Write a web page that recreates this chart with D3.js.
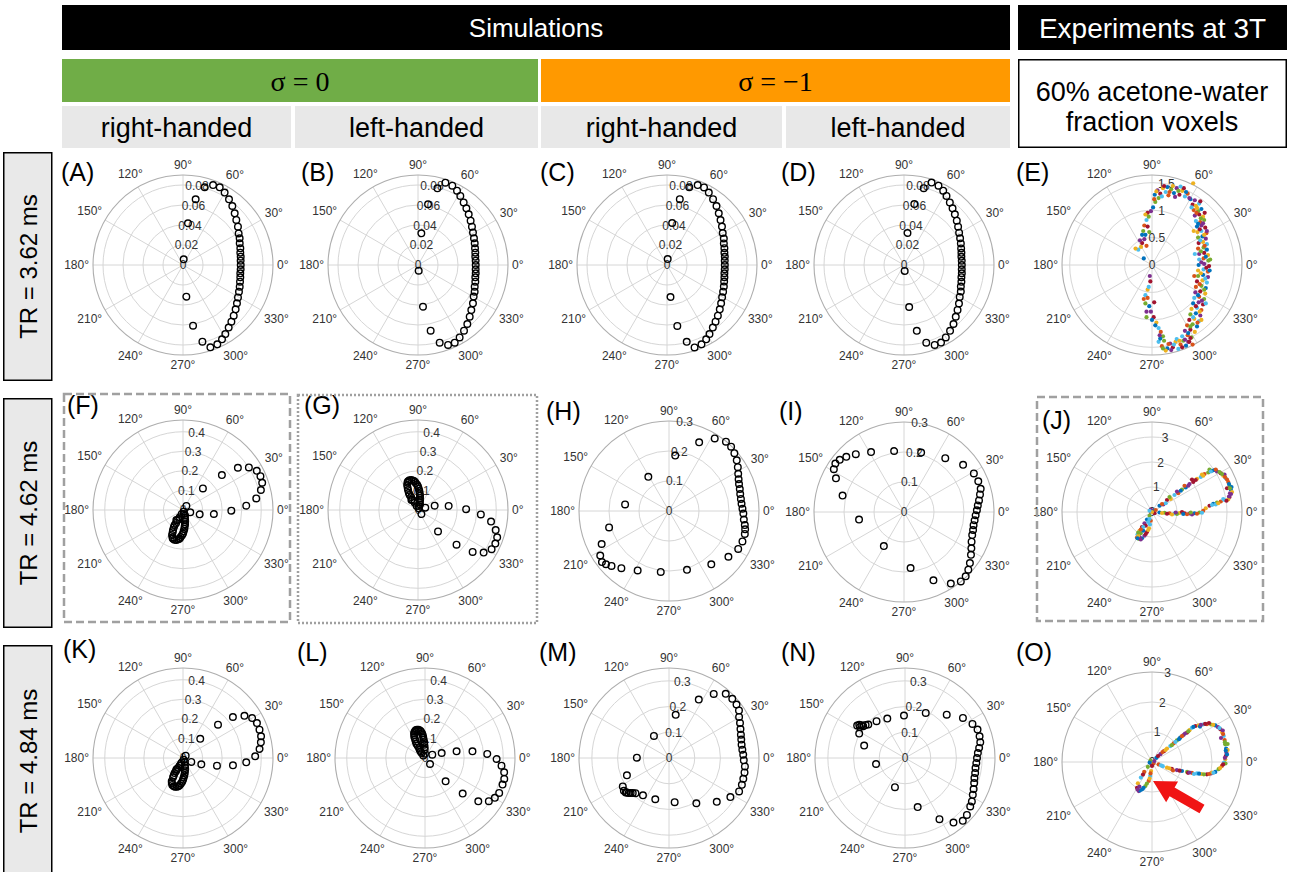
<!DOCTYPE html>
<html>
<head>
<meta charset="utf-8">
<script src="https://cdn.jsdelivr.net/npm/d3@7"></script>
<style>
  html, body { margin: 0; padding: 0; background: #fff; }
  svg { display: block; }
</style>
</head>
<body>
<svg id="fig" width="1290" height="872"></svg>
<script>
// ---------- text content ----------
const groupTitles = ["Simulations", "Experiments at 3T"];
const sigmaLabels = ["\u03C3 = 0", "\u03C3 = \u22121"];
const handedness = ["right-handed", "left-handed", "right-handed", "left-handed"];
const voxelLabel = ["60% acetone-water", "fraction voxels"];
const trLabels = ["TR = 3.62 ms", "TR = 4.62 ms", "TR = 4.84 ms"];

// ---------- polar axis ticks ----------
const thetaTicks = [0, 30, 60, 90, 120, 150, 180, 210, 240, 270, 300, 330];
const rTicksRow1 = [0, 0.02, 0.04, 0.06, 0.08];
const rTicksLoop = [0, 0.1, 0.2, 0.3, 0.4];
const rTicksWide = [0, 0.1, 0.2, 0.3];
const rTicksE = [0, 0.5, 1, 1.5];
const rTicksJO = [0, 1, 2, 3];

// ---------- simulated signal: [phase (deg), magnitude] ----------
const simA = [[69.4,0.0854],[74.4,0.0806],[64.7,0.0859],[60.1,0.0835],[55.0,0.0802],[50.1,0.0769],[45.0,0.0731],[40.2,0.0698],[34.9,0.0670],[29.6,0.0640],[25.2,0.0626],[20.9,0.0607],[16.2,0.0597],[12.1,0.0586],[8.2,0.0583],[4.3,0.0578],[0,0.0577],[-4.3,0.0578],[-8.3,0.0579],[-12.1,0.0586],[-16.3,0.0594],[-20.9,0.0607],[-25.5,0.0620],[-30.5,0.0638],[-35.4,0.0662],[-40.1,0.0688],[-45.0,0.0717],[-49.5,0.0745],[-53.9,0.0775],[-58.5,0.0810],[-62.3,0.0839],[-66.6,0.0864],[-71.6,0.0868],[-75.8,0.0791],[-80.6,0.0615],[-84.0,0.0318],[83.0,0.0057],[83.2,0.0420],[79.1,0.0669]];
const simB = [[-69.4,0.0854],[-74.4,0.0806],[-64.7,0.0859],[-60.1,0.0835],[-55.0,0.0802],[-50.1,0.0769],[-45.0,0.0731],[-40.2,0.0698],[-34.9,0.0670],[-29.6,0.0640],[-25.2,0.0626],[-20.9,0.0607],[-16.2,0.0597],[-12.1,0.0586],[-8.2,0.0583],[-4.3,0.0578],[0,0.0577],[4.3,0.0578],[8.3,0.0579],[12.1,0.0586],[16.3,0.0594],[20.9,0.0607],[25.5,0.0620],[30.5,0.0638],[35.4,0.0662],[40.1,0.0688],[45.0,0.0717],[49.5,0.0745],[53.9,0.0775],[58.5,0.0810],[62.3,0.0839],[66.6,0.0864],[71.6,0.0868],[75.8,0.0791],[80.6,0.0615],[84.0,0.0318],[-83.0,0.0057],[-83.2,0.0420],[-79.1,0.0669]];
const simC = [[69.0,0.0856],[74.0,0.0808],[64.5,0.0860],[60.0,0.0836],[55.0,0.0803],[50.0,0.0770],[45.0,0.0732],[40.0,0.0699],[35.0,0.0671],[29.8,0.0642],[25.0,0.0627],[20.8,0.0608],[16.3,0.0598],[12.0,0.0587],[8.1,0.0584],[4.2,0.0579],[0,0.0578],[-4.2,0.0579],[-8.2,0.0580],[-12.0,0.0587],[-16.2,0.0595],[-20.8,0.0608],[-25.4,0.0621],[-30.4,0.0639],[-35.3,0.0663],[-40.0,0.0689],[-44.9,0.0718],[-49.4,0.0746],[-53.8,0.0776],[-58.4,0.0811],[-62.2,0.0840],[-66.5,0.0865],[-71.5,0.0869],[-75.6,0.0793],[-80.4,0.0618],[-83.8,0.0322],[83.5,0.0060],[83.0,0.0423],[79.0,0.0671]];
const simD = [[-69.0,0.0856],[-74.0,0.0808],[-64.5,0.0860],[-60.0,0.0836],[-55.0,0.0803],[-50.0,0.0770],[-45.0,0.0732],[-40.0,0.0699],[-35.0,0.0671],[-29.8,0.0642],[-25.0,0.0627],[-20.8,0.0608],[-16.3,0.0598],[-12.0,0.0587],[-8.1,0.0584],[-4.2,0.0579],[0,0.0578],[4.2,0.0579],[8.2,0.0580],[12.0,0.0587],[16.2,0.0595],[20.8,0.0608],[25.4,0.0621],[30.4,0.0639],[35.3,0.0663],[40.0,0.0689],[44.9,0.0718],[49.4,0.0746],[53.8,0.0776],[58.4,0.0811],[62.2,0.0840],[66.5,0.0865],[71.5,0.0869],[75.6,0.0793],[80.4,0.0618],[83.8,0.0322],[-83.5,0.0060],[-83.0,0.0423],[-79.0,0.0671]];

const simF = [[47.3,0.150],[41.9,0.267],[37.6,0.354],[32.9,0.401],[28.0,0.427],[23.6,0.432],[19.0,0.428],[14.4,0.411],[9.0,0.379],[3.9,0.324],[-0.8,0.247],[-7.4,0.159],[-14.6,0.088],[-17.6,0.039],[50,0.027],
  [-68,0.009],[-108,0.021],[-114,0.041],[-119,0.062],[-119,0.088],[-116.6,0.114],[-113.7,0.139],[-109.2,0.155],[-102.5,0.157],[-96.6,0.147],[-92.3,0.129],[-88.2,0.109],[-84.3,0.085],[-80.5,0.062],[-77.7,0.040],[-76,0.021],[-123.7,0.061],
  [-70,0.030],[-112,0.050],[-118,0.075],[-118,0.100],[-115,0.125],[-111,0.150],[-106,0.158],[-99,0.152],[-95,0.138],[-90,0.120],[-86,0.097],[-82,0.074],[-78,0.050]];
const simG = [[-47,0.150],[-42,0.265],[-37.5,0.352],[-33,0.400],[-28,0.426],[-23.5,0.431],[-19,0.428],[-14.5,0.410],[-9,0.378],[-4,0.322],[1,0.246],[7.5,0.158],[14.5,0.088],[17.5,0.039],[-50,0.027],
  [68,0.009],[108,0.021],[114,0.041],[119,0.062],[119,0.088],[116.5,0.114],[113.5,0.139],[109,0.155],[102.5,0.157],[96.5,0.147],[92,0.129],[88,0.109],[84,0.085],[80.5,0.062],[77.5,0.040],[76,0.021],[123.5,0.061],
  [70,0.030],[112,0.050],[118,0.075],[118,0.100],[115,0.125],[111,0.150],[106,0.158],[99,0.152],[95,0.138],[90,0.120],[86,0.097],[82,0.074],[78,0.050]];
const simH = [[66.3,0.250],[57.8,0.286],[50.6,0.299],[46.0,0.298],[41.5,0.291],[36.8,0.282],[32.5,0.272],[28.3,0.262],[24.5,0.255],[21.0,0.250],[17.2,0.247],[13.4,0.244],[9.5,0.243],[5.7,0.243],[1.8,0.245],[-2.0,0.248],[-6.5,0.251],[-10.5,0.257],[-13.5,0.261],[-16.8,0.264],[-22.5,0.265],[-28.7,0.263],[-37.6,0.250],[-51.6,0.227],[-73.0,0.205],[-97.7,0.205],[-117.8,0.224],[-129.8,0.248],[-136.3,0.265],[-139.8,0.275],[-142.7,0.281],[-147.1,0.273],[-153.9,0.250],[-164.7,0.207],[171.5,0.148],[121.2,0.133],[83.6,0.186]];
const simI = [[73.9,0.206],[52.5,0.226],[38.6,0.252],[28.9,0.266],[22.5,0.268],[16.8,0.267],[13.0,0.260],[8.8,0.253],[5.1,0.247],[1.3,0.243],[-2.6,0.239],[-6.7,0.237],[-10.7,0.236],[-14.7,0.238],[-18.7,0.240],[-23.7,0.246],[-28.3,0.255],[-32.6,0.265],[-37.8,0.278],[-41.9,0.288],[-46.2,0.297],[-50.7,0.299],[-56.8,0.285],[-66.7,0.248],[-83.3,0.188],[-120.6,0.132],[-170.4,0.152],[165.0,0.212],[153.7,0.253],[148.6,0.274],[144.8,0.280],[140.9,0.276],[136.3,0.266],[129.8,0.251],[118.8,0.228],[99.2,0.206]];
const simK = [[48.1,0.132],[43.6,0.247],[39.4,0.330],[34.5,0.381],[30.0,0.408],[25.3,0.418],[20.3,0.417],[15.5,0.414],[11.4,0.406],[6.7,0.394],[1.3,0.369],[-3.9,0.324],[-8.3,0.258],[-12.7,0.178],[-19,0.099],[-25.6,0.047],[41,0.018],
  [-68,0.009],[-107,0.023],[-113.5,0.043],[-118.6,0.064],[-119,0.088],[-117.3,0.111],[-115.9,0.132],[-111.6,0.148],[-105.4,0.153],[-99.4,0.146],[-94.5,0.131],[-90,0.111],[-85.6,0.089],[-80.8,0.064],[-75.4,0.040],[-67.4,0.022],[-119.7,0.069],
  [-110,0.032],[-116,0.055],[-118,0.077],[-118,0.100],[-114,0.140],[-108,0.152],[-102,0.150],[-97,0.140],[-92,0.122],[-88,0.100],[-83,0.076],[-78,0.052]];
const simL = [[24.4,0.041],[16.7,0.089],[11.9,0.165],[8.0,0.245],[3.7,0.319],[-0.8,0.366],[-5.7,0.393],[-10.2,0.411],[-14.8,0.419],[-18.9,0.419],[-25.2,0.419],[-29.7,0.411],[-34.1,0.394],[-39.1,0.351],[-43.4,0.265],[-48.5,0.159],[-50.2,0.040],
  [125.5,0.015],[123.7,0.031],[122.6,0.050],[120.7,0.073],[119.2,0.097],[117,0.120],[113.7,0.139],[108.6,0.149],[103.2,0.148],[98.6,0.136],[95.8,0.118],[94.2,0.094],[92.9,0.068],[92.3,0.043],[90,0.022],[121,0.059],
  [124,0.040],[121,0.085],[118,0.108],[115,0.130],[111,0.145],[106,0.150],[100,0.143],[97,0.127],[95,0.106],[93,0.080],[92,0.055]];
const simM = [[63.0,0.255],[55.1,0.304],[48.5,0.333],[43.1,0.337],[38.4,0.335],[34.2,0.329],[30.4,0.316],[26.3,0.308],[22.1,0.300],[18.0,0.294],[14.3,0.290],[10.4,0.287],[6.5,0.287],[2.6,0.289],[-1.8,0.291],[-6.3,0.297],[-10.8,0.299],[-15.6,0.300],[-20.2,0.302],[-25.5,0.302],[-32.5,0.283],[-42.5,0.252],[-58.9,0.206],[-82.7,0.173],[-108.4,0.169],[-124.9,0.177],[-133.6,0.189],[-136,0.196],[-137.6,0.202],[-139,0.208],[-140.7,0.212],[-141.5,0.215],[-144,0.217],[-148.4,0.211],[-157.6,0.177],[179.4,0.125],[124.3,0.104],[81.2,0.170]];
const simN = [[34.7,0.274],[46.1,0.234],[65.3,0.193],[91.4,0.165],[114.2,0.168],[127.7,0.181],[137.7,0.193],[140,0.200],[142.8,0.204],[143,0.212],[144,0.220],[145.4,0.213],[145.8,0.225],[151.9,0.202],[163.1,0.166],[-168.3,0.115],[-109,0.120],[-75.5,0.197],[-60.6,0.273],[-53.1,0.314],[-47.4,0.332],[-42.6,0.327],[-36.6,0.316],[-33,0.310],[-28.5,0.300],[-24.4,0.293],[-19.9,0.286],[-16.1,0.281],[-12.1,0.279],[-8.1,0.277],[-4.0,0.278],[0,0.280],[3.9,0.284],[7.7,0.291],[11.8,0.299],[16.2,0.302],[21.4,0.303],[26.8,0.294]];

// ---------- measured voxel signal: [real, imaginary] ----------
const sigE = [
  [0.70,1.20],[0.78,1.18],[0.74,1.10],[0.80,1.08],[0.86,1.12],[0.76,1.00],[0.84,0.98],[0.90,1.02],[0.78,0.90],[0.86,0.92],[0.93,0.88],[0.80,0.80],[0.88,0.78],[0.95,0.82],[0.82,0.70],[0.90,0.72],[0.97,0.68],[0.83,0.60],[0.90,0.62],[0.99,0.58],[0.84,0.50],[0.92,0.52],[0.98,0.48],[0.85,0.40],[0.93,0.42],[1.00,0.38],[0.84,0.30],[0.94,0.32],[1.00,0.28],[0.86,0.20],[0.95,0.22],[1.02,0.18],[0.86,0.10],[0.94,0.12],[1.03,0.08],[0.85,0.00],[0.95,0.02],[1.04,-0.02],[0.84,-0.10],[0.94,-0.08],[1.02,-0.12],[0.84,-0.20],[0.93,-0.18],[1.02,-0.22],[0.82,-0.30],[0.92,-0.28],[1.00,-0.32],[0.80,-0.40],[0.90,-0.38],[0.98,-0.42],[0.79,-0.50],[0.88,-0.48],[0.97,-0.52],[0.77,-0.60],[0.86,-0.58],[0.95,-0.62],[0.75,-0.70],[0.85,-0.68],[0.93,-0.72],[0.72,-0.80],[0.82,-0.78],[0.90,-0.82],[0.70,-0.90],[0.80,-0.88],[0.88,-0.92],[0.68,-1.00],[0.77,-0.98],[0.86,-1.02],[0.64,-1.10],[0.74,-1.08],[0.82,-1.12],[0.60,-1.20],[0.70,-1.18],[0.78,-1.22],[0.55,-1.30],[0.65,-1.28],[0.72,-1.32],
  [0.05,1.28],[0.10,1.36],[0.15,1.30],[0.20,1.40],[0.25,1.33],[0.30,1.27],[0.35,1.38],[0.40,1.31],[0.45,1.40],[0.50,1.28],[0.55,1.35],[0.60,1.25],[0.65,1.30],[0.12,1.22],[0.28,1.42],[0.42,1.24],[0.58,1.40],[0.75,1.49],
  [0.12,-1.40],[0.18,-1.48],[0.22,-1.38],[0.28,-1.52],[0.33,-1.43],[0.38,-1.50],[0.43,-1.40],[0.48,-1.53],[0.52,-1.45],[0.57,-1.38],[0.62,-1.47],[0.66,-1.40],[0.70,-1.33],[0.25,-1.56],[0.45,-1.35],[0.74,-1.45],
  [0.06,1.15],[0.02,1.05],[-0.02,0.98],[-0.08,0.95],[-0.12,0.92],[-0.10,0.82],[-0.14,0.72],[-0.16,0.62],[-0.12,0.55],[-0.14,0.47],[-0.18,0.40],[-0.20,0.33],[-0.25,0.28],[-0.10,0.35],[-0.05,0.60],[-0.15,0.12],
  [-0.04,-0.20],[-0.03,-0.30],[-0.08,-0.45],[-0.12,-0.55],[-0.08,-0.60],[-0.12,-0.70],[-0.05,-0.75],[-0.02,-0.85],[0.03,-0.95],[0.08,-1.05],[0.12,-1.15],[0.16,-1.22],[0.20,-1.30],[0.00,-1.00],[-0.10,-0.85],
  [0.88,1.16],[0.82,1.04],[0.72,1.05],[0.81,0.95],[0.89,0.85],[0.84,0.75],[0.93,0.76],[0.87,0.65],[0.95,0.55],[0.88,0.45],[0.96,0.35],[0.89,0.25],[0.98,0.15],[0.90,0.05],[0.99,-0.05],[0.89,-0.15],[0.97,-0.25],[0.87,-0.35],[0.95,-0.45],[0.84,-0.55],[0.91,-0.65],[0.80,-0.75],[0.87,-0.85],[0.75,-0.95],[0.83,-1.05],[0.70,-1.12],[0.66,-1.24],[0.60,-1.36],[0.68,-1.40],[0.50,-1.38],[0.40,-1.45],[0.30,-1.44],[0.20,-1.52],[0.15,-1.34],[0.35,-1.55],[0.55,-1.50],[0.08,1.34],[0.18,1.25],[0.32,1.33],[0.48,1.35],[0.62,1.33],[0.68,1.22],[0.22,1.44],[0.38,1.44],[0.52,1.43],[0.04,1.20],[-0.06,0.88],[-0.18,0.55],[-0.22,0.45],[-0.08,0.70],[-0.30,0.30],[-0.06,-0.40],[-0.15,-0.62],[-0.10,-0.95],[0.06,-1.10],[0.14,-1.28],[0.04,-0.68],[0.76,0.62],[0.78,0.20],[0.77,-0.20],[1.06,0.10],[1.05,-0.10],[1.00,0.62],[0.96,0.95],[0.90,-1.00],[0.98,-0.70]];
const sigJ = [
  [0.30,0.25],[0.45,0.30],[0.60,0.48],[0.75,0.52],[0.90,0.68],[1.05,0.75],[1.20,0.90],[1.35,0.98],[1.50,1.12],[1.65,1.20],[1.80,1.33],[1.95,1.40],[2.10,1.52],[2.25,1.58],[2.40,1.65],[1.00,0.82],[1.60,1.30],[2.00,1.50],[0.55,0.35],[1.30,1.05],[2.30,1.70],
  [2.50,1.68],[2.60,1.62],[2.75,1.55],[2.85,1.45],[2.95,1.35],[3.05,1.20],[3.10,1.05],[3.15,0.90],[3.12,0.75],[3.10,0.60],[3.05,0.50],[2.90,0.48],[2.75,0.42],[2.60,0.38],[2.45,0.33],[2.90,1.50],[3.00,0.95],[3.20,0.80],[2.85,0.52],[3.00,1.30],[2.70,1.60],[3.18,1.00],[3.08,0.62],[2.30,0.25],[2.15,0.15],[2.55,0.30],
  [2.05,0.05],[1.90,-0.02],[1.70,-0.05],[1.50,-0.06],[1.30,-0.05],[1.10,-0.04],[0.90,-0.06],[0.70,-0.05],[0.50,-0.03],[0.30,-0.02],[1.60,-0.10],[1.20,0.00],[0.80,-0.10],[2.00,-0.03],[1.40,-0.09],[1.00,-0.08],
  [0.05,0.05],[-0.05,0.10],[0.10,-0.05],[0.00,0.00],[-0.10,0.05],[0.15,0.08],
  [-0.10,-0.15],[-0.20,-0.30],[-0.30,-0.45],[-0.40,-0.60],[-0.50,-0.75],[-0.58,-0.90],[-0.60,-1.02],[-0.52,-1.08],[-0.40,-1.05],[-0.30,-0.95],[-0.20,-0.80],[-0.12,-0.65],[-0.08,-0.50],[-0.05,-0.35],[-0.45,-0.85],[-0.35,-0.75],[-0.50,-1.00],[-0.25,-0.55],[-0.55,-0.95],[-0.15,-0.40],
  [0.40,0.32],[0.70,0.60],[1.15,0.85],[1.45,1.05],[1.75,1.28],[2.05,1.45],[2.35,1.62],[2.55,1.70],[2.80,1.52],[3.08,1.12],[3.16,0.72],[2.98,0.45],[2.65,0.35],[2.40,0.28],[1.80,-0.07],[1.55,-0.02],[1.25,-0.08],[0.95,-0.02],[0.60,-0.07],[0.40,-0.04],[-0.35,-0.60],[-0.45,-0.70],[-0.55,-0.82],[-0.58,-1.05],[-0.45,-1.10],[-0.25,-0.88],[-0.15,-0.72],[-0.10,-0.28],[2.92,1.40],[3.12,0.95]];
const sigO = [
  [0.15,0.14],[0.28,0.26],[0.40,0.36],[0.50,0.45],[0.61,0.53],[0.72,0.62],[0.83,0.72],[0.94,0.81],[1.05,0.90],[1.17,0.98],[1.25,1.06],[1.33,1.14],[0.35,0.33],[0.66,0.56],[0.90,0.76],[1.10,0.95],
  [1.45,1.20],[1.56,1.22],[1.70,1.25],[1.83,1.26],[1.97,1.25],[2.11,1.22],[2.20,1.16],[2.28,1.09],[2.34,0.98],[2.39,0.87],[2.42,0.73],[2.44,0.59],[2.47,0.45],[2.48,0.31],[2.46,0.20],[2.44,0.09],[2.40,-0.02],[2.33,-0.13],[2.22,-0.24],[2.11,-0.33],[1.97,-0.38],[1.83,-0.41],[1.65,-0.40],[1.50,-0.38],[1.33,-0.36],[1.17,-0.33],[1.00,-0.30],[0.83,-0.27],[0.66,-0.23],[0.50,-0.19],[0.36,-0.14],[0.22,-0.08],
  [2.52,0.60],[2.50,0.25],[2.36,1.05],[1.90,1.30],[2.00,-0.35],[1.40,-0.40],[0.70,-0.28],[2.45,-0.05],[1.60,1.18],[2.30,0.80],[1.20,-0.36],[2.52,0.40],
  [0.00,0.00],[0.05,-0.05],[-0.05,0.05],[-0.08,-0.02],[0.08,0.03],
  [0.00,-0.13],[-0.03,-0.30],[-0.06,-0.47],[-0.11,-0.63],[-0.22,-0.80],[-0.33,-0.91],[-0.44,-0.97],[-0.50,-0.86],[-0.47,-0.71],[-0.37,-0.52],[-0.26,-0.33],[-0.14,-0.16],[-0.40,-0.95],[-0.48,-0.92],
  [0.20,0.20],[0.45,0.40],[0.78,0.67],[1.00,0.86],[1.21,1.02],[1.38,1.17],[1.63,1.24],[1.77,1.27],[2.04,1.24],[2.25,1.13],[2.37,0.93],[2.43,0.66],[2.46,0.38],[2.43,0.14],[2.37,-0.08],[2.27,-0.20],[2.05,-0.36],[1.90,-0.40],[1.73,-0.41],[1.57,-0.39],[1.25,-0.35],[0.92,-0.29],[0.58,-0.21],[0.30,-0.11],[-0.05,-0.38],[-0.17,-0.72],[-0.28,-0.86],[-0.42,-0.82],[-0.30,-0.42],[-0.08,-0.55]];

// ---------- layout ----------
const W = 1290, H = 872;
const R = 90;                      // polar axes radius in px
const FONT = '"Liberation Sans", Arial, Helvetica, sans-serif';
const seriesColors = ["#0072BD","#D95319","#EDB120","#7E2F8E","#77AC30","#4DBEEE","#A2142F"];

const panels = [
  {id:"A", cx:183, cy:265, rmax:0.09, ticks:rTicksRow1, sim:simA, lx:61,  ly:181},
  {id:"B", cx:418, cy:265, rmax:0.09, ticks:rTicksRow1, sim:simB, lx:301, ly:181},
  {id:"C", cx:667, cy:265, rmax:0.09, ticks:rTicksRow1, sim:simC, lx:540, ly:181},
  {id:"D", cx:904, cy:265, rmax:0.09, ticks:rTicksRow1, sim:simD, lx:781, ly:181},
  {id:"E", cx:1152, cy:265, rmax:1.64, ticks:rTicksE, sig:sigE, lx:1016, ly:181},
  {id:"F", cx:183, cy:510, rmax:0.46, ticks:rTicksLoop, sim:simF, lx:67,  ly:414},
  {id:"G", cx:418, cy:510, rmax:0.46, ticks:rTicksLoop, sim:simG, lx:304, ly:414},
  {id:"H", cx:669, cy:511, rmax:0.30, ticks:rTicksWide, sim:simH, lx:546, ly:420},
  {id:"I", cx:904, cy:512, rmax:0.30, ticks:rTicksWide, sim:simI, lx:779, ly:420},
  {id:"J", cx:1152, cy:512, rmax:3.6, ticks:rTicksJO, sig:sigJ, lx:1042, ly:429},
  {id:"K", cx:183, cy:758, rmax:0.46, ticks:rTicksLoop, sim:simK, lx:63,  ly:658},
  {id:"L", cx:425, cy:758, rmax:0.46, ticks:rTicksLoop, sim:simL, lx:297, ly:661},
  {id:"M", cx:669, cy:758, rmax:0.35, ticks:rTicksWide, sim:simM, lx:539, ly:661},
  {id:"N", cx:905, cy:758, rmax:0.35, ticks:rTicksWide, sim:simN, lx:781, ly:661},
  {id:"O", cx:1152, cy:762, rmax:3.0, ticks:rTicksJO, sig:sigO, lx:1016, ly:661}
];

const svg = d3.select("#fig");
svg.append("rect").attr("width", W).attr("height", H).attr("fill", "#fff");

// ---------- header ----------
const hdr = svg.append("g").attr("font-family", FONT);
const titleBoxes = [{x:62, w:948, fs:26}, {x:1018, w:269, fs:28}];
titleBoxes.forEach((b, i) => {
  hdr.append("rect").attr("x", b.x).attr("y", 5).attr("width", b.w).attr("height", 45).attr("fill", "#000");
  hdr.append("text").attr("x", b.x + b.w / 2).attr("y", 28).attr("text-anchor", "middle")
    .attr("dominant-baseline", "central").attr("fill", "#fff").attr("font-size", b.fs).text(groupTitles[i]);
});
const sigmaBoxes = [{x:62, w:476, fill:"#70AD47"}, {x:541, w:469, fill:"#FF9900"}];
sigmaBoxes.forEach((b, i) => {
  hdr.append("rect").attr("x", b.x).attr("y", 59).attr("width", b.w).attr("height", 43).attr("fill", b.fill);
  hdr.append("text").attr("x", b.x + b.w / 2).attr("y", 81).attr("text-anchor", "middle")
    .attr("dominant-baseline", "central").attr("font-family", '"Liberation Serif", "Times New Roman", serif')
    .attr("font-size", 28).attr("fill", "#000").text(sigmaLabels[i]);
});
const handBoxes = [{x:62, w:229}, {x:295, w:243}, {x:541, w:241}, {x:786, w:224}];
handBoxes.forEach((b, i) => {
  hdr.append("rect").attr("x", b.x).attr("y", 106).attr("width", b.w).attr("height", 42).attr("fill", "#E8E8E8");
  hdr.append("text").attr("x", b.x + b.w / 2).attr("y", 128).attr("text-anchor", "middle")
    .attr("dominant-baseline", "central").attr("font-size", 27).attr("fill", "#000").text(handedness[i]);
});
hdr.append("rect").attr("x", 1018.75).attr("y", 59.75).attr("width", 267.5).attr("height", 87.5)
  .attr("fill", "#fff").attr("stroke", "#000").attr("stroke-width", 1.5);
voxelLabel.forEach((t, i) => {
  hdr.append("text").attr("x", 1152).attr("y", 92 + i * 30).attr("text-anchor", "middle")
    .attr("dominant-baseline", "central").attr("font-size", 27).attr("fill", "#000").text(t);
});

// ---------- row labels ----------
const rowBoxes = [{y:152, h:229}, {y:398, h:230}, {y:645, h:232}];
rowBoxes.forEach((b, i) => {
  svg.append("rect").attr("x", 3.75).attr("y", b.y + 0.75).attr("width", 48).attr("height", b.h - 1.5)
    .attr("fill", "#E9E9E9").attr("stroke", "#000").attr("stroke-width", 1.5);
  svg.append("text").attr("transform", `translate(28,${b.y + b.h / 2}) rotate(-90)`)
    .attr("text-anchor", "middle").attr("dominant-baseline", "central")
    .attr("font-family", FONT).attr("font-size", 24).attr("fill", "#000").text(trLabels[i]);
});

// ---------- polar panels ----------
function drawPanel(p) {
  const g = svg.append("g").attr("transform", `translate(${p.cx},${p.cy})`).attr("font-family", FONT);
  const rs = d3.scaleLinear().domain([0, p.rmax]).range([0, R]);
  // theta in degrees, counter-clockwise from east -> d3 radial angle (clockwise from north)
  const as = d3.scaleLinear().domain([0, 360]).range([Math.PI / 2, Math.PI / 2 - 2 * Math.PI]);
  const pos = (deg, r) => d3.pointRadial(as(deg), rs(r));

  g.selectAll("line.spoke").data(thetaTicks).join("line").attr("class", "spoke")
    .attr("x1", 0).attr("y1", 0)
    .attr("x2", d => pos(d, p.rmax)[0]).attr("y2", d => pos(d, p.rmax)[1])
    .attr("stroke", "#D6D6D6").attr("stroke-width", 1);
  g.selectAll("circle.ring").data(p.ticks.filter(t => t > 0 && t < p.rmax - 1e-9)).join("circle").attr("class", "ring")
    .attr("r", d => rs(d)).attr("fill", "none").attr("stroke", "#D6D6D6").attr("stroke-width", 1);
  g.append("circle").attr("r", rs(p.rmax)).attr("fill", "none").attr("stroke", "#AEAEAE").attr("stroke-width", 1.1);

  // angle labels outside the rim
  thetaTicks.forEach(a => {
    const t = g.append("text").attr("font-size", 12).attr("fill", "#333")
      .attr("text-anchor", "middle").attr("dominant-baseline", "central").text(a + "\u00B0");
    const w = t.node().getComputedTextLength();
    const th = a * Math.PI / 180;
    const rr = R + 4 + Math.abs(Math.cos(th)) * w / 2 + Math.abs(Math.sin(th)) * 6;
    t.attr("x", rr * Math.cos(th)).attr("y", -rr * Math.sin(th));
  });
  // radial tick labels along 80 degrees
  g.selectAll("text.rt").data(p.ticks).join("text").attr("class", "rt")
    .attr("x", d => pos(80, d)[0]).attr("y", d => pos(80, d)[1])
    .attr("text-anchor", "middle").attr("dominant-baseline", "central")
    .attr("font-size", 12).attr("fill", "#333").text(d => String(d));

  if (p.sim) {
    g.selectAll("circle.pt").data(p.sim).join("circle").attr("class", "pt")
      .attr("cx", d => pos(d[0], d[1])[0]).attr("cy", d => pos(d[0], d[1])[1])
      .attr("r", 3.3).attr("fill", "none").attr("stroke", "#000").attr("stroke-width", 1.4);
  } else {
    const polar = p.sig.map(d => [Math.atan2(d[1], d[0]) * 180 / Math.PI, Math.hypot(d[0], d[1])]);
    g.selectAll("circle.pt").data(polar).join("circle").attr("class", "pt")
      .attr("cx", d => pos(d[0], d[1])[0]).attr("cy", d => pos(d[0], d[1])[1])
      .attr("r", 2.1).attr("fill", (d, i) => seriesColors[(i * 3) % 7]);
  }

  svg.append("text").attr("x", p.lx).attr("y", p.ly).attr("font-family", FONT)
    .attr("font-size", 25).attr("fill", "#000").text("(" + p.id + ")");
}
panels.forEach(drawPanel);

// ---------- highlight frames ----------
const frames = [
  {x:64, y:394, w:226, h:228, dash:"8,4"},
  {x:298, y:395, w:239, h:228, dash:"2,2"},
  {x:1037, y:397, w:226, h:224, dash:"8,4"}
];
frames.forEach(f => {
  svg.append("rect").attr("x", f.x).attr("y", f.y).attr("width", f.w).attr("height", f.h)
    .attr("fill", "none").attr("stroke", "#A0A0A0").attr("stroke-width", 2.5).attr("stroke-dasharray", f.dash);
});

// ---------- arrow pointing at the small lobe in (O) ----------
const arrowTail = [1202, 809], arrowTip = [1153, 781];
const ang = Math.atan2(arrowTip[1] - arrowTail[1], arrowTip[0] - arrowTail[0]) * 180 / Math.PI;
const len = Math.hypot(arrowTip[0] - arrowTail[0], arrowTip[1] - arrowTail[1]);
svg.append("path")
  .attr("transform", `translate(${arrowTail[0]},${arrowTail[1]}) rotate(${ang})`)
  .attr("d", `M0,-5 L${len - 22},-5 L${len - 22},-12 L${len},0 L${len - 22},12 L${len - 22},5 L0,5 Z`)
  .attr("fill", "#F01414");
</script>
</body>
</html>
